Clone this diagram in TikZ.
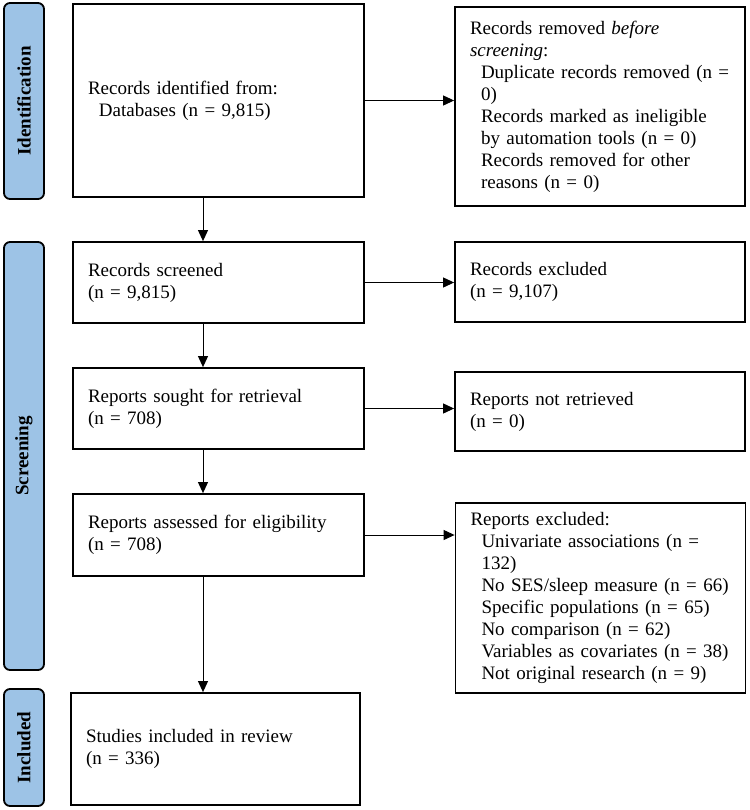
\documentclass[tikz,border=0pt]{standalone}
\usepackage{fontspec}
\setmainfont{Liberation Serif}
\usetikzlibrary{arrows.meta}
\definecolor{phaseblue}{RGB}{157,195,230}
\newcommand{\indnt}{\hspace*{5.5pt}}

\begin{document}
\begin{tikzpicture}[x=0.5pt,y=-0.5pt,
  box/.style={draw, line width=0.9pt, align=left, inner xsep=7.5pt, inner ysep=0pt,
    font=\fontsize{9.5pt}{11pt}\selectfont},
  lbox/.style={box, text width=130.5pt, minimum width=145.5pt},
  rbox/.style={box, text width=130pt, minimum width=145pt},
  phase/.style={draw, line width=0.9pt, rounded corners=3pt, fill=phaseblue,
    rotate=90, minimum height=20pt, inner sep=0pt,
    font=\bfseries\fontsize{9.5pt}{11pt}\selectfont},
  arr/.style={-{Triangle[length=5.5pt,width=5pt]}, line width=0.5pt}]

  \useasboundingbox (0,0) rectangle (750,810);

  %% phases
  \node[phase, minimum width=98pt]  (idph)  at (24,101)   {Identification};
  \node[phase, minimum width=214pt] (scrph) at (24,456)   {Screening};
  \node[phase, minimum width=58.5pt](incph) at (24,747.5) {Included};

  %% main column
  \node[lbox, minimum height=96.5pt] (ident) at (218.5,100.5)
    {Records identified from:\\\indnt Databases (n = 9,815)};
  \node[lbox, minimum height=40.5pt] (screened) at (218.5,282.5)
    {Records screened\\(n = 9,815)};
  \node[lbox, minimum height=40.5pt] (sought) at (218.5,408.5)
    {Reports sought for retrieval\\(n = 708)};
  \node[lbox, minimum height=41pt] (assessed) at (218.5,535)
    {Reports assessed for eligibility\\(n = 708)};
  \node[lbox, minimum height=56pt, text width=129.5pt, minimum width=144.5pt]
    (included) at (215.5,749)
    {Studies included in review\\(n = 336)};

  %% side column
  \node[rbox, minimum height=99.5pt] (removed) at (600,106.5)
    {Records removed \textit{before}\\\textit{screening}:\\
     \indnt Duplicate records removed (n =\\\indnt 0)\\
     \indnt Records marked as ineligible\\\indnt by automation tools (n = 0)\\
     \indnt Records removed for other\\\indnt reasons (n = 0)};
  \node[rbox, minimum height=40pt] (excluded) at (600,282)
    {Records excluded\\(n = 9,107)};
  \node[rbox, minimum height=39.5pt] (notretr) at (600,411.5)
    {Reports not retrieved\\(n = 0)};
  \node[rbox, minimum height=95pt] (repexcl) at (600.5,598)
    {Reports excluded:\\
     \indnt Univariate associations (n =\\\indnt 132)\\
     \indnt No SES/sleep measure (n = 66)\\
     \indnt Specific populations (n = 65)\\
     \indnt No comparison (n = 62)\\
     \indnt Variables as covariates (n = 38)\\
     \indnt Not original research (n = 9)};

  %% flow down
  \coordinate (spine) at (203,0);
  \draw[arr] (ident.south -| spine) -- (screened.north -| spine);
  \draw[arr] (screened.south -| spine) -- (sought.north -| spine);
  \draw[arr] (sought.south -| spine) -- (assessed.north -| spine);
  \draw[arr] (assessed.south -| spine) -- (included.north -| spine);

  %% flow right
  \draw[arr] (ident.east) -- (removed.west |- ident.east);
  \draw[arr] (screened.east) -- (excluded.west |- screened.east);
  \draw[arr] (sought.east) -- (notretr.west |- sought.east);
  \draw[arr] (assessed.east) -- (repexcl.west |- assessed.east);

\end{tikzpicture}
\end{document}
